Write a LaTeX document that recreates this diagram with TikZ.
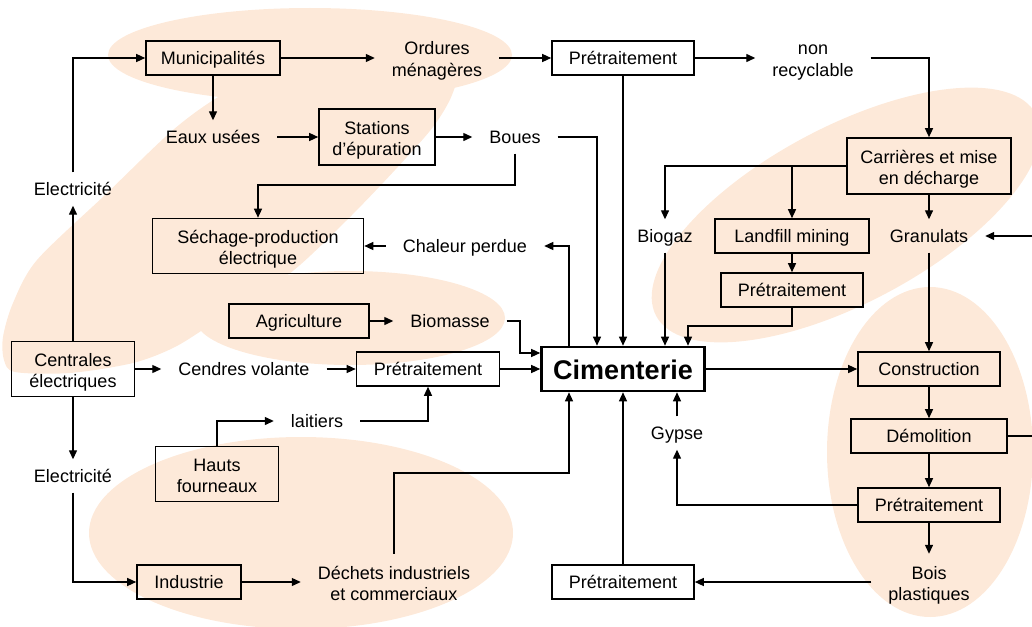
\documentclass[tikz,border=0pt]{standalone}
\usepackage{fontspec}
\setmainfont{Liberation Sans}
\usepackage{tikz}
\usetikzlibrary{arrows.meta}

\definecolor{peach}{HTML}{FDE9D9}

\tikzset{
  box/.style={draw, line width=1.6pt, minimum height=34pt, inner sep=2pt, align=center,
    text height=13pt, text depth=0pt},
  lbl/.style={inner xsep=17pt, inner ysep=10pt, align=center, text height=13pt, text depth=0pt},
  two/.style={text height=36pt, text depth=0pt},
  cim/.style={draw, line width=2.6pt, minimum width=163pt, minimum height=44pt, inner sep=2pt,
    text height=20pt, text depth=0pt, font=\fontsize{27}{30}\selectfont\bfseries},
  arr/.style={line width=1.3pt, -{Triangle[length=9pt, width=8pt]}}
}

\begin{document}
\begin{tikzpicture}[x=1pt, y=-1pt, font=\fontsize{18}{21}\selectfont]

\useasboundingbox (0,0) rectangle (1032,626);

% shaded areas

\fill[peach] plot[smooth cycle] coordinates {(220,96) (173,130) (105,195) (37,260) (13,303)
  (3,337) (4,360) (15,372) (70,373) (133,363) (175,347) (215,322) (260,295) (300,265)
  (350,217) (395,170) (433,127) (452,95) (455,70) (420,50) (330,60) (260,80)};
\fill[peach] (310,55) ellipse [x radius=202, y radius=47];
\fill[peach] (350,318) ellipse [x radius=155, y radius=47];
\fill[peach] (301,533) ellipse [x radius=212, y radius=96];
\fill[peach, rotate around={28:(846,215)}] (846,215) ellipse [x radius=215, y radius=88];
\fill[peach] (930,452) ellipse [x radius=103, y radius=165];

% municipal waste

\node[box, minimum width=134pt] (muni) at (213,58) {Municipalités};
\node[lbl, two] (ord) at (437,58) {Ordures\\ménagères};
\node[box, minimum width=142pt] (pre1) at (623,58) {Prétraitement};
\node[lbl, two] (nonrec) at (813,58) {non\\recyclable};
\node[lbl] (eaux) at (213,137) {Eaux usées};
\node[box, two, minimum width=116pt, minimum height=56pt] (stat) at (377,137) {Stations\\d’épuration};
\node[lbl] (boues) at (515,137) {Boues};
\node[box, two, minimum width=211pt, minimum height=55pt] (sech) at (258,246) {Séchage-production\\électrique};
\node[lbl] (chal) at (465,246) {Chaleur perdue};

% landfill

\node[box, two, minimum width=164pt, minimum height=56pt] (carr) at (929,166) {Carrières et mise\\en décharge};
\node[lbl] (biogaz) at (665,236) {Biogaz};
\node[box, minimum width=154pt] (land) at (792,236) {Landfill mining};
\node[lbl] (gran) at (929,236) {Granulats};
\node[box, minimum width=142pt] (pre2) at (792,290) {Prétraitement};

% power plants, agriculture, blast furnaces

\node[lbl] (elec1) at (73,189) {Electricité};
\node[box, minimum width=140pt] (agri) at (299,321) {Agriculture};
\node[lbl] (biom) at (450,321) {Biomasse};
\node[box, two, minimum width=123pt, minimum height=55pt] (cent) at (73,369) {Centrales\\électriques};
\node[lbl] (cend) at (244,369) {Cendres volante};
\node[box, minimum width=143pt] (pre3) at (428,369) {Prétraitement};
\node[lbl] (lait) at (317,421) {laitiers};
\node[box, two, minimum width=123pt, minimum height=55pt] (hauts) at (217,474) {Hauts\\fourneaux};
\node[lbl] (elec2) at (73,476) {Electricité};

% cement plant

\node[cim] (cim) at (623,369) {Cimenterie};
\node[lbl] (gypse) at (677,433) {Gypse};

% construction

\node[box, minimum width=142pt] (cons) at (929,369) {Construction};
\node[box, minimum width=156pt] (demo) at (929,436) {Démolition};
\node[box, minimum width=142pt] (pre4) at (929,505) {Prétraitement};
\node[lbl, two] (bois) at (929,582) {Bois\\plastiques};

% industry

\node[box, minimum width=104pt] (indus) at (189,582) {Industrie};
\node[lbl, two] (dech) at (394,582) {Déchets industriels\\et commerciaux};
\node[box, minimum width=142pt] (pre5) at (623,582) {Prétraitement};

% bends
\coordinate (yb) at (0,185);
\coordinate (xa) at (569,0);
\coordinate (xb) at (597,0);
\coordinate (pturn) at (688,326);
\coordinate (bturn) at (520,353);
\coordinate (dturn) at (569,473);
\coordinate (xr) at (1036,0);

% municipal waste -> cement plant
\draw [arr] (elec1) |- (muni);
\draw [arr] (muni) -- (ord);
\draw [arr] (muni) -- (eaux);
\draw [arr] (ord) -- (pre1);
\draw [arr] (pre1) -- (nonrec);
\draw [arr] (nonrec) -| (carr);
\draw [arr] (eaux) -- (stat);
\draw [arr] (stat) -- (boues);
\draw [arr] (boues) |- (yb -| sech) -- (sech);
\draw [arr] (boues) -| (xb |- cim.north);
\draw [arr] (pre1) -- (cim);
\draw [arr] (cim.north -| xa) |- (chal);
\draw [arr] (chal) -- (sech);

% landfill -> cement plant
\draw [arr] (carr.west) -| (biogaz);
\draw [arr] (carr.west -| land) -- (land);
\draw [arr] (carr) -- (gran);
\draw [arr] (land) -- (pre2);
\draw [arr] (biogaz) -- (biogaz |- cim.north);
\draw [arr] (pre2) |- (pturn) -- (pturn |- cim.north);

% power plants -> cement plant
\draw [arr] (cent) -- (elec1);
\draw [arr] (cent) -- (elec2);
\draw [arr] (cent) -- (cend);
\draw [arr] (cend) -- (pre3);
\draw [arr] (pre3) -- (cim);
\draw [arr] (agri) -- (biom);
\draw [arr] (biom) -| (bturn) -- (cim.west |- bturn);
\draw [arr] (hauts) |- (lait);
\draw [arr] (lait) -| (pre3);

% construction loop
\draw [arr] (gran) -- (cons);
\draw [arr] (cim) -- (cons);
\draw [arr] (cons) -- (demo);
\draw [arr] (demo) -- (pre4);
\draw [arr] (demo) -| (xr |- gran) -- (gran);
\draw [arr] (pre4) -| (gypse);
\draw [arr] (gypse) -- (gypse |- cim.south);
\draw [arr] (pre4) -- (bois);
\draw [arr] (bois) -- (pre5);
\draw [arr] (pre5) -- (cim);

% industry -> cement plant
\draw [arr] (elec2) |- (indus);
\draw [arr] (indus) -- (dech);
\draw [arr] (dech) |- (dturn) -- (cim.south -| dturn);

\end{tikzpicture}
\end{document}
